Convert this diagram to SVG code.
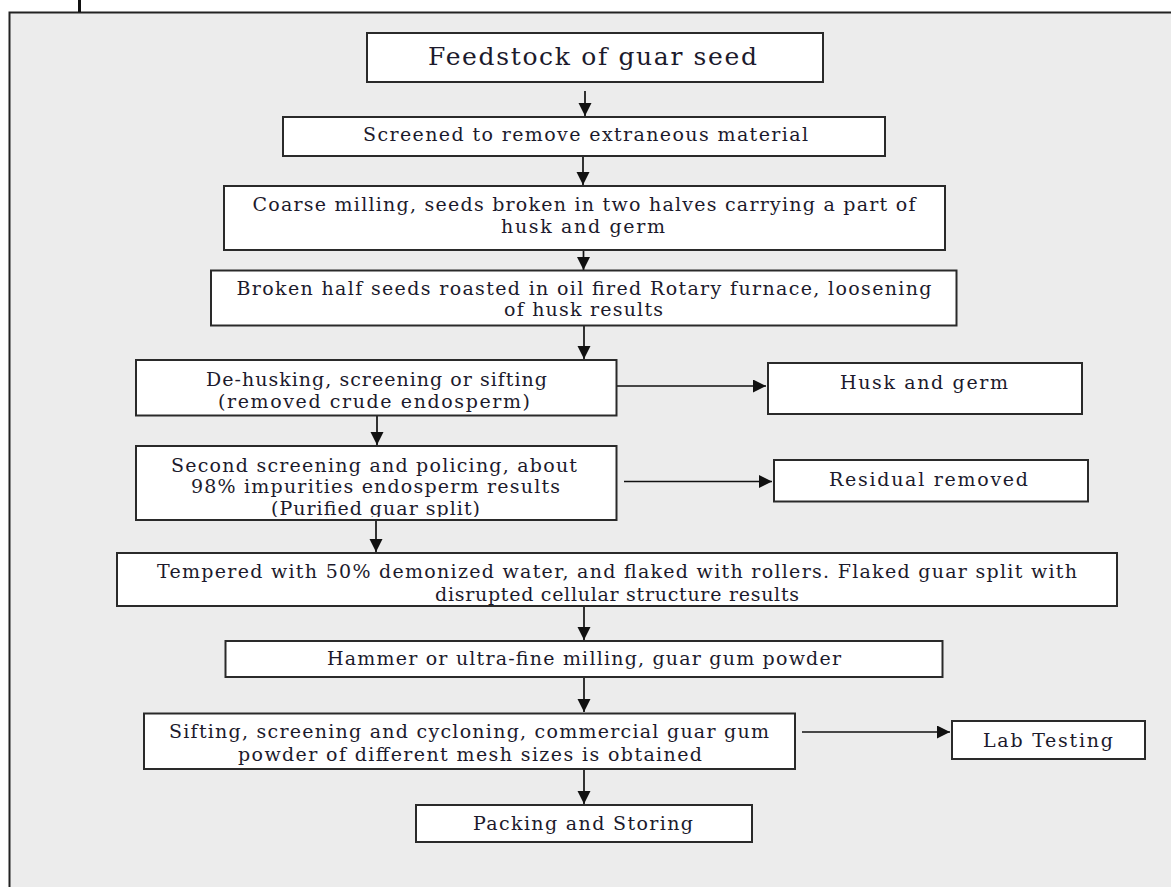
<svg xmlns="http://www.w3.org/2000/svg" width="1171" height="887" viewBox="0 0 1171 887">
<style>
.box{fill:#ffffff;stroke:#2a2a2a;stroke-width:2}
.t{font-family:"DejaVu Serif","Liberation Serif",serif;font-size:19px;fill:#1c1a2c;text-anchor:middle}
.title{font-size:25px}
.c{stroke:#111;stroke-width:1.7;fill:none;marker-end:url(#ah)}
</style>
<defs>
<marker id="ah" markerUnits="userSpaceOnUse" markerWidth="14" markerHeight="14" refX="13" refY="6.5" orient="auto">
<path d="M0,0 L13,6.5 L0,13 z" fill="#111"/>
</marker>
<clipPath id="clip2"><rect x="136" y="446" width="481" height="71"/></clipPath>
</defs>
<rect x="0" y="0" width="1171" height="887" fill="#ffffff"/>
<rect x="9" y="12.5" width="1162" height="874.5" fill="#ececec"/>
<path d="M9.5,887 L9.5,12.5 L1171,12.5" fill="none" stroke="#222" stroke-width="2"/>
<rect x="78" y="0" width="3" height="12" fill="#111"/>

<g id="connectors">
<line class="c" x1="585" y1="91" x2="585" y2="116"/>
<line class="c" x1="583" y1="156" x2="583" y2="185"/>
<line class="c" x1="583.5" y1="250" x2="583.5" y2="270"/>
<line class="c" x1="584" y1="326" x2="584" y2="359"/>
<line class="c" x1="377" y1="416" x2="377" y2="445"/>
<line class="c" x1="376" y1="520" x2="376" y2="552"/>
<line class="c" x1="584" y1="606" x2="584" y2="640"/>
<line class="c" x1="584" y1="677" x2="584" y2="712"/>
<line class="c" x1="584" y1="769" x2="584" y2="804"/>
<line class="c" x1="617" y1="386" x2="766" y2="386"/>
<line class="c" x1="624" y1="481.5" x2="772" y2="481.5"/>
<line class="c" x1="802" y1="732" x2="950" y2="732"/>
</g>

<g id="n1"><rect class="box" x="367" y="33" width="456" height="49"/>
<text class="t title" x="592.5" y="65" textLength="329" lengthAdjust="spacing">Feedstock of guar seed</text></g>

<g id="n2"><rect class="box" x="283" y="117" width="602" height="39"/>
<text class="t" x="585.5" y="141" textLength="445" lengthAdjust="spacing">Screened to remove extraneous material</text></g>

<g id="n3"><rect class="box" x="224" y="186" width="721" height="64"/>
<text class="t" x="584" y="211" textLength="663" lengthAdjust="spacing">Coarse milling, seeds broken in two halves carrying a part of</text>
<text class="t" x="583" y="233" textLength="164" lengthAdjust="spacing">husk and germ</text></g>

<g id="n4"><rect class="box" x="211" y="270.5" width="745.5" height="55"/>
<text class="t" x="584" y="295" textLength="695" lengthAdjust="spacing">Broken half seeds roasted in oil fired Rotary furnace, loosening</text>
<text class="t" x="583.5" y="316" textLength="159" lengthAdjust="spacing">of husk results</text></g>

<g id="n5"><rect class="box" x="136" y="360" width="480.5" height="55.5"/>
<text class="t" x="376.5" y="386" textLength="341" lengthAdjust="spacing">De-husking, screening or sifting</text>
<text class="t" x="374" y="408" textLength="312" lengthAdjust="spacing">(removed crude endosperm)</text></g>

<g id="n6"><rect class="box" x="768" y="363" width="314" height="51"/>
<text class="t" x="924" y="389" textLength="168" lengthAdjust="spacing">Husk and germ</text></g>

<g id="n7"><rect class="box" x="136" y="446" width="480.5" height="74"/>
<text class="t" x="374" y="472" textLength="406" lengthAdjust="spacing">Second screening and policing, about</text>
<text class="t" x="375.5" y="493" textLength="369" lengthAdjust="spacing">98% impurities endosperm results</text>
<text class="t" x="375.5" y="515" textLength="209" lengthAdjust="spacing" clip-path="url(#clip2)">(Purified guar split)</text></g>

<g id="n8"><rect class="box" x="774" y="460" width="314" height="41.5"/>
<text class="t" x="928.5" y="486" textLength="199" lengthAdjust="spacing">Residual removed</text></g>

<g id="n9"><rect class="box" x="117" y="553" width="1000" height="53"/>
<text class="t" x="617" y="578" textLength="920" lengthAdjust="spacing">Tempered with 50% demonized water, and flaked with rollers. Flaked guar split with</text>
<text class="t" x="617" y="601" textLength="364" lengthAdjust="spacing">disrupted cellular structure results</text></g>

<g id="n10"><rect class="box" x="225.5" y="641" width="717" height="36"/>
<text class="t" x="584" y="665" textLength="514" lengthAdjust="spacing">Hammer or ultra-fine milling, guar gum powder</text></g>

<g id="n11"><rect class="box" x="144" y="713.5" width="651" height="55.5"/>
<text class="t" x="469" y="738" textLength="600" lengthAdjust="spacing">Sifting, screening and cycloning, commercial guar gum</text>
<text class="t" x="470" y="761" textLength="464" lengthAdjust="spacing">powder of different mesh sizes is obtained</text></g>

<g id="n12"><rect class="box" x="952" y="721" width="193" height="38"/>
<text class="t" x="1048" y="747" textLength="130" lengthAdjust="spacing">Lab Testing</text></g>

<g id="n13"><rect class="box" x="416" y="805" width="336" height="37"/>
<text class="t" x="583" y="830" textLength="220" lengthAdjust="spacing">Packing and Storing</text></g>
</svg>
